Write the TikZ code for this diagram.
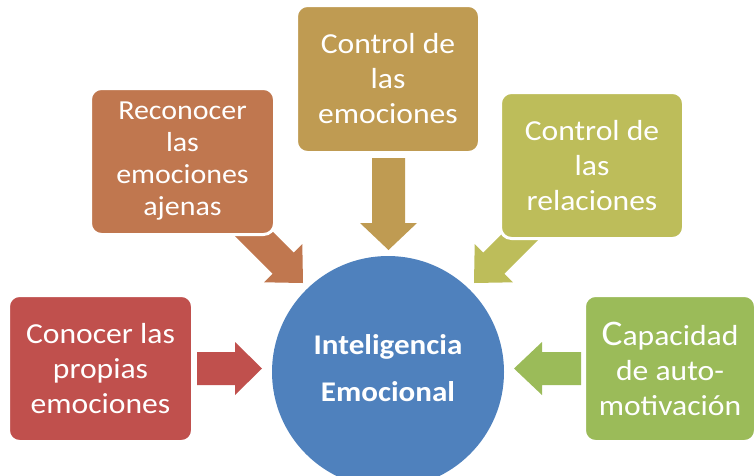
\documentclass[tikz,border=0pt]{standalone}
\usepackage{fontspec}
\setmainfont{Carlito}[FakeStretch=1.09]
\definecolor{cRed}{HTML}{C0504D}
\definecolor{cRust}{HTML}{C0774F}
\definecolor{cTan}{HTML}{BF9B52}
\definecolor{cOlive}{HTML}{BDBD5A}
\definecolor{cGreen}{HTML}{9BBB59}
\definecolor{cBlue}{HTML}{4F81BD}
\tikzset{
  boxnode/.style={draw=white, line width=3pt, rounded corners=11pt, align=center,
    text=white, inner sep=0pt, font=\fontsize{29}{35}\selectfont},
  blockarrow/.style={draw=none},
  hub/.style={circle, minimum size=232pt, inner sep=0pt, fill=cBlue, draw=none},
  hubtext/.style={text=white, align=center, font=\bfseries\fontsize{28.5}{47}\selectfont}
}
\begin{document}
\begin{tikzpicture}[x=1pt,y=-1pt]
\useasboundingbox (0,0) rectangle (755,475);
\clip (0,0) rectangle (755,475);
% arrows (drawn first, boxes cover their tails)
\fill[cRust] (228.8,230) -- (250,208.8) -- (293.8,252.6) -- (302.3,244.1) -- (303,283)
  -- (264.1,282.3) -- (272.6,273.8) -- cycle;
\fill[cOlive] (548.2,230) -- (527,208.8) -- (483.2,252.6) -- (474.7,244.1) -- (474,283)
  -- (512.9,282.3) -- (504.4,273.8) -- cycle;
\fill[cTan] (372,158) -- (372,223) -- (360,223) -- (388.5,250) -- (417,223) -- (405,223) -- (405,158) -- cycle;
\fill[cRed] (197,352) -- (235,352) -- (235,342) -- (262,368.5) -- (235,395) -- (235,385) -- (197,385) -- cycle;
\fill[cGreen] (581,352) -- (542,352) -- (542,342) -- (514,368.5) -- (542,395) -- (542,385) -- (581,385) -- cycle;
% boxes
\node[boxnode, fill=cTan, minimum width=183pt, minimum height=147pt] (ctrl) at (388,79)
  {Control de\\las\\emociones};
\node[boxnode, fill=cRust, minimum width=184pt, minimum height=146pt,
  font=\fontsize{27.5}{32}\selectfont] (reco) at (182.5,161.5)
  {Reconocer\\las\\emociones\\ajenas};
\node[boxnode, fill=cOlive, minimum width=183pt, minimum height=146pt] (rela) at (592,165.5)
  {Control de\\las\\relaciones};
\node[boxnode, fill=cRed, minimum width=184pt, minimum height=146pt] (cono) at (100.5,368.5)
  {Conocer las\\propias\\emociones};
\node[boxnode, fill=cGreen, minimum width=171pt, minimum height=146pt] (capa) at (670,368.5)
  {{\fontsize{36}{35}\selectfont C}apacidad\\de auto-\\motivación};
% hub
\node[hub] (ie) at (388,372) {};
\node[hubtext] (ietext) at (388,368) {Inteligencia\\Emocional};
\end{tikzpicture}
\end{document}
